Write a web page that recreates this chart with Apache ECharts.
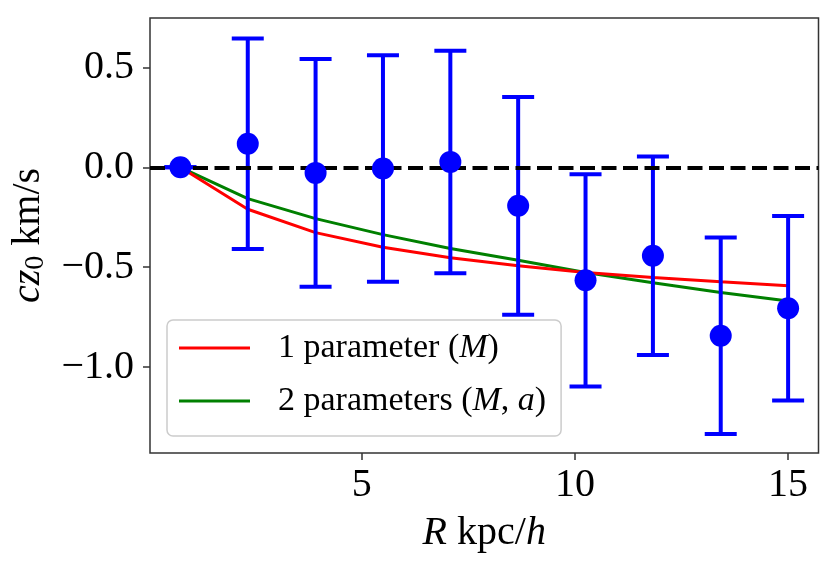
<!DOCTYPE html>
<html>
<head>
  <meta charset="utf-8">
  <title>cz0 vs R</title>
  <script src="https://cdn.jsdelivr.net/npm/echarts@6/dist/echarts.min.js"></script>
  <style>
    html, body { margin: 0; padding: 0; background: #fff; }
    #main { width: 837px; height: 568px; }
  </style>
</head>
<body>
<div id="main"></div>
<script>
  // radius bins (kpc/h)
  const R = [0.75, 2.33, 3.92, 5.5, 7.08, 8.67, 10.25, 11.83, 13.42, 15.0];
  // measured cz0 and its error
  const cz = [0.0, 0.118, -0.028, -0.006, 0.027, -0.193, -0.566, -0.443, -0.843, -0.706];
  const czErr = [0.0, 0.527, 0.570, 0.567, 0.557, 0.545, 0.531, 0.497, 0.492, 0.462];
  // model fits
  const fit1 = [0.0, -0.210, -0.327, -0.400, -0.453, -0.493, -0.527, -0.552, -0.573, -0.593];
  const fit2 = [0.0, -0.157, -0.257, -0.337, -0.407, -0.465, -0.527, -0.578, -0.627, -0.670];

  const xTicks = [5, 10, 15];
  const yTicks = [-1.0, -0.5, 0.0, 0.5];

  const FONT = 'Liberation Serif';
  const AXIS_COLOR = '#333';

  const pts = R.map((r, i) => [r, cz[i], czErr[i]]);

  const myChart = echarts.init(document.getElementById('main'));

  const option = {
    animation: false,
    backgroundColor: '#fff',
    grid: {
      left: 150,
      top: 18,
      right: 18.5,
      bottom: 115,
      show: true,
      borderColor: AXIS_COLOR,
      borderWidth: 1.5,
      containLabel: false
    },
    legend: {
      left: 167,
      top: 320,
      orient: 'vertical',
      data: [
        { name: '1 parameter (M)', icon: 'rect' },
        { name: '2 parameters (M, a)', icon: 'rect' }
      ],
      itemWidth: 71,
      itemHeight: 3,
      itemGap: 13,
      padding: [8, 15, 15, 12],
      backgroundColor: 'rgba(255,255,255,0.8)',
      borderColor: '#cccccc',
      borderWidth: 1.5,
      borderRadius: 6,
      selectedMode: false,
      formatter: function (name) {
        return name === '1 parameter (M)'
          ? '1 parameter ({i|M})'
          : '2 parameters ({i|M}, {i|a})';
      },
      textStyle: {
        fontFamily: FONT,
        fontSize: 34,
        lineHeight: 40,
        color: '#000',
        padding: [0, 0, 0, 23],
        rich: {
          i: { fontFamily: FONT, fontSize: 34, fontStyle: 'italic', color: '#000' }
        }
      }
    },
    xAxis: {
      type: 'value',
      min: 0.0375,
      max: 15.7125,
      name: '{i|R} kpc/{i|h}',
      nameLocation: 'middle',
      nameGap: 60,
      nameTextStyle: {
        fontFamily: FONT,
        fontSize: 40,
        color: '#000',
        rich: {
          i: { fontFamily: FONT, fontSize: 40, fontStyle: 'italic', color: '#000' }
        }
      },
      axisLine: { show: false, onZero: false },
      splitLine: { show: false },
      axisTick: {
        show: true,
        length: 7,
        lineStyle: { color: AXIS_COLOR, width: 1.5 },
        customValues: xTicks
      },
      axisLabel: {
        fontFamily: FONT,
        fontSize: 40,
        color: '#000',
        margin: 12,
        customValues: xTicks,
        formatter: v => String(v)
      }
    },
    yAxis: {
      type: 'value',
      min: -1.4305,
      max: 0.7475,
      name: '{i|cz}{s|0} km/s',
      nameLocation: 'middle',
      nameGap: 100,
      nameTextStyle: {
        fontFamily: FONT,
        fontSize: 40,
        color: '#000',
        rich: {
          i: { fontFamily: FONT, fontSize: 40, fontStyle: 'italic', color: '#000' },
          s: { fontFamily: FONT, fontSize: 28, color: '#000', padding: [16, 0, 0, 0] }
        }
      },
      axisLine: { show: false, onZero: false },
      splitLine: { show: false },
      axisTick: {
        show: true,
        length: 7,
        lineStyle: { color: AXIS_COLOR, width: 1.5 },
        customValues: yTicks
      },
      axisLabel: {
        fontFamily: FONT,
        fontSize: 40,
        color: '#000',
        margin: 16,
        customValues: yTicks,
        formatter: v => v.toFixed(1).replace('-', '\u2212')
      }
    },
    series: [
      {
        name: '2 parameters (M, a)',
        type: 'line',
        data: R.map((r, i) => [r, fit2[i]]),
        symbol: 'none',
        color: '#008000',
        lineStyle: { color: '#008000', width: 3 },
        z: 2
      },
      {
        name: '1 parameter (M)',
        type: 'line',
        data: R.map((r, i) => [r, fit1[i]]),
        symbol: 'none',
        color: '#ff0000',
        lineStyle: { color: '#ff0000', width: 3 },
        z: 2,
        markLine: {
          silent: true,
          symbol: 'none',
          label: { show: false },
          lineStyle: { color: '#000', width: 4, type: [15, 6.5] },
          data: [{ yAxis: 0 }]
        }
      },
      {
        type: 'custom',
        z: 4,
        data: pts,
        encode: { x: 0, y: 1 },
        renderItem: function (params, api) {
          const x = api.value(0);
          const y = api.value(1);
          const e = api.value(2);
          const top = api.coord([x, y + e]);
          const bot = api.coord([x, y - e]);
          const cap = 16;
          const st = { stroke: '#0000ff', lineWidth: 4 };
          return {
            type: 'group',
            children: [
              { type: 'line', shape: { x1: top[0], y1: top[1], x2: bot[0], y2: bot[1] }, style: st },
              { type: 'line', shape: { x1: top[0] - cap, y1: top[1], x2: top[0] + cap, y2: top[1] }, style: st },
              { type: 'line', shape: { x1: bot[0] - cap, y1: bot[1], x2: bot[0] + cap, y2: bot[1] }, style: st }
            ]
          };
        }
      },
      {
        type: 'scatter',
        z: 5,
        data: R.map((r, i) => [r, cz[i]]),
        symbol: 'circle',
        symbolSize: 22,
        itemStyle: { color: '#0000ff', opacity: 1 }
      }
    ]
  };

  myChart.setOption(option);
</script>
</body>
</html>
